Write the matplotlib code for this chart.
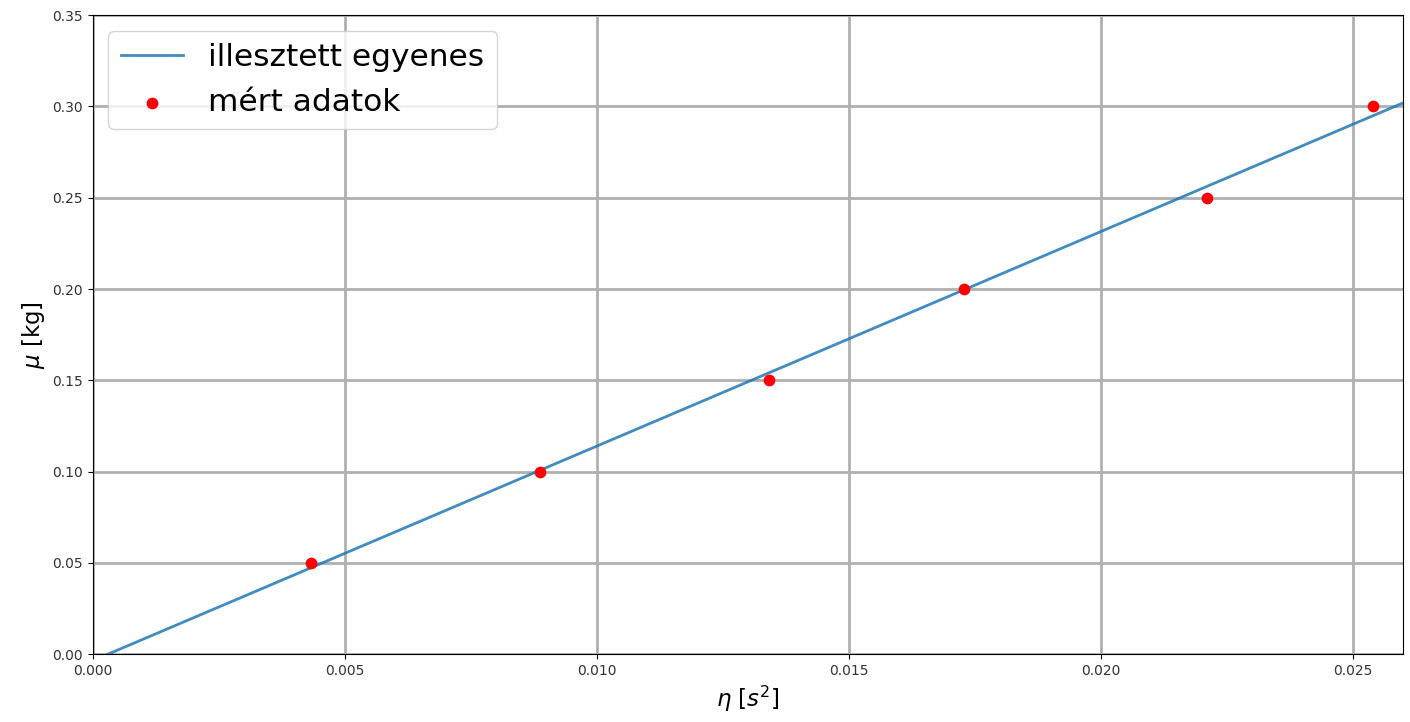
import matplotlib
matplotlib.use("Agg")
import matplotlib.pyplot as plt
import numpy as np

eta = [0.00433, 0.00887, 0.01343, 0.01730, 0.02211, 0.02541]
mu = [0.05, 0.10, 0.15, 0.20, 0.25, 0.30]
slope = 11.75
intercept = -0.0036

fig = plt.figure(figsize=(14.1, 7.22), dpi=100)
ax = fig.add_axes([0.0657, 0.094, 0.9293, 0.885])
xs = np.array([0.0, 0.026])
ax.plot(xs, slope * xs + intercept, color='#1f77b4', alpha=0.85, lw=2, label='illesztett egyenes', zorder=3)
ax.scatter(eta, mu, color='red', s=55, label='mért adatok', zorder=4)
ax.set_xlim(0, 0.026)
ax.set_ylim(0, 0.35)
ax.set_xticks(np.arange(0, 0.0251, 0.005))
ax.set_yticks(np.arange(0, 0.351, 0.05))
ax.xaxis.set_major_formatter(matplotlib.ticker.FormatStrFormatter('%.3f'))
ax.yaxis.set_major_formatter(matplotlib.ticker.FormatStrFormatter('%.2f'))
ax.grid(True, color='#b0b0b0', lw=2)
ax.set_axisbelow(True)
ax.tick_params(labelsize=10, colors='black', labelcolor='#333333')
ax.set_xlabel(r'$\eta\ [s^2]$', fontsize=16.5)
ax.set_ylabel(r'$\mu$ [kg]', fontsize=16.5)
ax.legend(loc='upper left', fontsize=22.5)
fig.savefig('out.png', dpi=100)
